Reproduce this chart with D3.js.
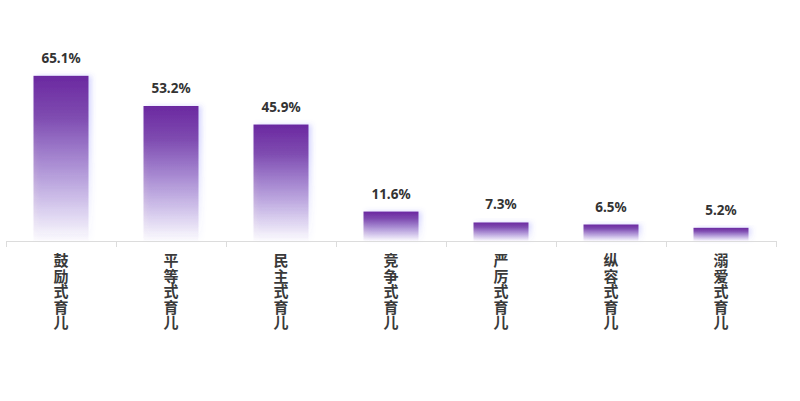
<!DOCTYPE html>
<html>
<head>
<meta charset="utf-8">
<script src="https://cdn.jsdelivr.net/npm/d3@7"></script>
<style>
  body { margin: 0; background: #fff; }
  svg { display: block; }
  .val { font-family: "Noto Sans", "Noto Sans CJK SC", sans-serif; font-weight: bold; font-size: 13.5px; fill: #333; }
  .cat { font-family: "Noto Sans CJK SC", sans-serif; font-weight: bold; font-size: 15px; fill: #3a3a3a;
         writing-mode: vertical-rl; }
</style>
</head>
<body>
<div id="chart"></div>
<script>
// data
const categories = ["鼓励式育儿", "平等式育儿", "民主式育儿", "竞争式育儿", "严厉式育儿", "纵容式育儿", "溺爱式育儿"];
const values = [65.1, 53.2, 45.9, 11.6, 7.3, 6.5, 5.2];

const width = 800, height = 401;
const margin = { left: 6, right: 24, top: 38, bottom: 160 };

const svg = d3.select("#chart").append("svg")
    .attr("width", width)
    .attr("height", height);

const defs = svg.append("defs");
const grad = defs.append("linearGradient")
    .attr("id", "barGrad")
    .attr("x1", 0).attr("y1", 0).attr("x2", 0).attr("y2", 1);
grad.append("stop").attr("offset", "0%").attr("stop-color", "#6a28a0").attr("stop-opacity", 1);
grad.append("stop").attr("offset", "25%").attr("stop-color", "#7a44ac").attr("stop-opacity", 0.95);
grad.append("stop").attr("offset", "100%").attr("stop-color", "#8c66c0").attr("stop-opacity", 0.02);

const shadow = defs.append("filter")
    .attr("id", "glow")
    .attr("x", "-20%").attr("y", "-20%").attr("width", "150%").attr("height", "140%");
shadow.append("feDropShadow")
    .attr("dx", 3).attr("dy", 0).attr("stdDeviation", 2.5)
    .attr("flood-color", "#5a5cff").attr("flood-opacity", 0.25);

const x = d3.scaleBand()
    .domain(categories)
    .range([margin.left, width - margin.right])
    .paddingInner(0.5)
    .paddingOuter(0.25);

const y = d3.scaleLinear()
    .domain([0, 80])
    .range([241, margin.top]);

// bars
svg.selectAll(".bar")
    .data(values)
    .enter().append("rect")
    .attr("class", "bar")
    .attr("x", (d, i) => x(categories[i]))
    .attr("y", d => y(d))
    .attr("width", x.bandwidth())
    .attr("height", d => y(0) - y(d))
    .attr("fill", "url(#barGrad)")
    .attr("filter", "url(#glow)");

// value labels
svg.selectAll(".val")
    .data(values)
    .enter().append("text")
    .attr("class", "val")
    .attr("x", (d, i) => x(categories[i]) + x.bandwidth() / 2)
    .attr("y", d => y(d) - 13)
    .attr("text-anchor", "middle")
    .text(d => d.toFixed(1) + "%");

// x axis
const axis = svg.append("g");
axis.append("line")
    .attr("x1", margin.left).attr("x2", width - margin.right)
    .attr("y1", y(0) + 0.5).attr("y2", y(0) + 0.5)
    .attr("stroke", "#dcdcdc");
axis.selectAll(".tick")
    .data(d3.range(categories.length + 1))
    .enter().append("line")
    .attr("x1", i => Math.round(margin.left + i * x.step()) + 0.5)
    .attr("x2", i => Math.round(margin.left + i * x.step()) + 0.5)
    .attr("y1", y(0))
    .attr("y2", y(0) + 6)
    .attr("stroke", "#dcdcdc");

// vertical category labels, one character per line
categories.forEach(d => {
    const cx = x(d) + x.bandwidth() / 2;
    Array.from(d).forEach((ch, j) => {
        svg.append("text")
            .attr("class", "cat")
            .attr("x", cx)
            .attr("y", 253 + j * 15.5)
            .text(ch);
    });
});
</script>
</body>
</html>
